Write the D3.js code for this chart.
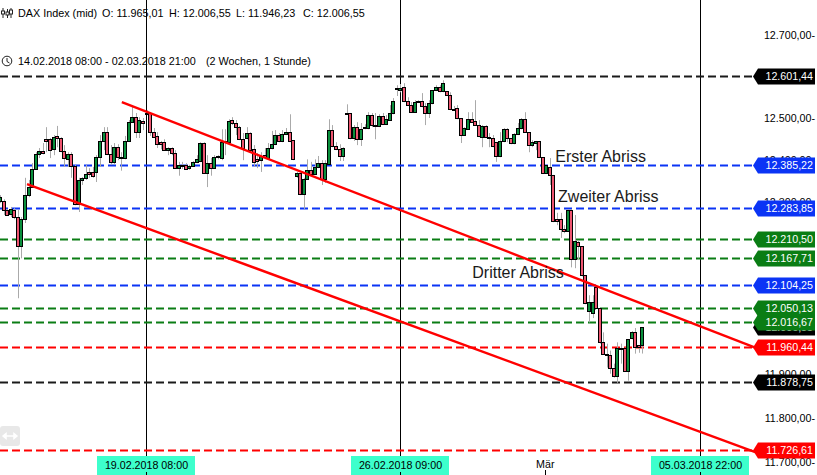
<!DOCTYPE html>
<html><head><meta charset="utf-8">
<script src="https://cdn.jsdelivr.net/npm/d3@7"></script>
<style>html,body{margin:0;padding:0;background:#fff}svg{display:block;font-family:"Liberation Sans",Arial,sans-serif}</style>
</head><body><div id="c"></div>
<script>
const opens=[12302,12302,12281,12271,12281,12264,12196,12259,12316,12335,
12378,12413,12421,12449,12449,12425,12457,12452,12421,12401,
12413,12385,12295,12352,12357,12371,12371,12371,12406,12445,
12466,12413,12395,12430,12406,12404,12445,12490,12502,12466,
12493,12512,12512,12466,12457,12442,12442,12423,12428,12416,
12380,12385,12388,12380,12385,12395,12397,12440,12369,12392,
12380,12409,12404,12445,12442,12495,12488,12478,12449,12452,
12464,12425,12401,12399,12411,12404,12428,12437,12459,12445,
12461,12466,12447,12362,12369,12318,12354,12376,12366,12383,
12392,12354,12390,12471,12433,12425,12409,12512,12512,12452,
12478,12449,12478,12476,12507,12483,12481,12505,12485,12495,
12512,12572,12567,12574,12541,12531,12514,12541,12541,12529,
12512,12536,12567,12574,12565,12565,12555,12521,12524,12500,
12459,12473,12497,12493,12483,12454,12481,12454,12452,12442,
12409,12445,12473,12452,12440,12461,12476,12497,12466,12435,
12440,12445,12406,12369,12383,12364,12259,12259,12236,12231,
12281,12165,12205,12196,12127,12044,12039,12099,12051,11972,
11946,11944,11914,11895,11960,11960,11907,11981,11995,11965,
11965.01];
const highs=[12316,12306,12283,12288,12285,12281,12264,12357,12352,12392,
12418,12428,12440,12478,12452,12459,12481,12454,12435,12418,
12418,12388,12357,12359,12388,12380,12383,12411,12459,12478,
12478,12435,12440,12437,12418,12457,12495,12531,12512,12502,
12500,12519,12514,12476,12466,12445,12449,12430,12430,12423,
12395,12395,12392,12388,12397,12411,12442,12442,12411,12404,
12411,12411,12473,12473,12497,12502,12495,12481,12464,12478,
12466,12435,12416,12418,12428,12440,12469,12471,12464,12471,
12476,12509,12447,12371,12369,12357,12401,12395,12401,12409,
12399,12399,12497,12483,12442,12437,12430,12533,12512,12483,
12490,12488,12485,12514,12512,12512,12509,12512,12507,12531,
12548,12579,12582,12584,12550,12538,12543,12543,12560,12536,
12543,12567,12579,12579,12591,12565,12562,12529,12531,12500,
12478,12514,12514,12543,12495,12483,12483,12464,12459,12442,
12466,12476,12476,12452,12464,12488,12500,12514,12466,12447,
12445,12445,12406,12388,12404,12364,12274,12274,12245,12283,
12283,12269,12210,12196,12127,12081,12081,12102,12051,11995,
11969,11953,11923,11972,11969,11960,11979,11998,12005,11965,
12006.55];
const lows=[12297,12269,12267,12264,12259,12074,12167,12250,12311,12335,
12376,12404,12413,12418,12404,12411,12430,12418,12383,12383,
12357,12292,12276,12340,12352,12357,12357,12347,12383,12423,
12411,12388,12388,12399,12374,12401,12445,12488,12452,12452,
12471,12507,12457,12452,12428,12425,12421,12411,12411,12378,
12362,12378,12376,12376,12383,12392,12395,12366,12335,12362,
12380,12401,12399,12411,12440,12483,12459,12447,12399,12449,
12423,12383,12380,12371,12404,12401,12425,12435,12442,12442,
12459,12442,12399,12357,12316,12283,12352,12362,12364,12380,
12340,12345,12390,12430,12423,12397,12397,12509,12449,12445,
12435,12433,12473,12473,12478,12449,12478,12483,12483,12493,
12509,12553,12562,12538,12529,12512,12512,12536,12526,12483,
12500,12533,12565,12562,12562,12553,12519,12517,12497,12440,
12457,12473,12488,12481,12454,12430,12452,12430,12430,12395,
12406,12442,12442,12437,12437,12459,12473,12464,12418,12430,
12423,12404,12366,12366,12340,12252,12245,12215,12226,12231,
12146,12144,12163,12125,12060,12018,12028,12049,11969,11944,
11914,11900,11891,11879,11923,11905,11884,11979,11946,11948,
11946.23];
const closes=[12311,12281,12269,12283,12264,12196,12259,12316,12335,12378,
12413,12421,12416,12445,12423,12454,12452,12421,12404,12413,
12385,12295,12352,12357,12366,12366,12362,12406,12445,12466,
12413,12395,12430,12406,12404,12445,12490,12502,12466,12495,
12488,12509,12466,12454,12437,12437,12423,12428,12416,12380,
12388,12388,12378,12385,12395,12401,12440,12369,12392,12380,
12406,12406,12442,12442,12493,12488,12478,12449,12428,12464,
12423,12395,12397,12409,12406,12428,12437,12459,12445,12461,
12466,12445,12401,12369,12318,12354,12376,12366,12383,12392,
12354,12392,12471,12433,12425,12409,12428,12509,12452,12478,
12449,12473,12476,12507,12483,12481,12505,12485,12497,12512,
12541,12570,12572,12541,12531,12514,12538,12538,12529,12512,
12536,12567,12574,12565,12584,12555,12521,12519,12500,12459,
12476,12497,12490,12483,12457,12481,12454,12452,12433,12409,
12445,12473,12452,12440,12461,12476,12497,12466,12435,12442,
12445,12406,12369,12388,12364,12255,12255,12236,12231,12281,
12165,12207,12196,12127,12062,12065,12065,12051,11972,11946,
11944,11914,11895,11960,11958,11907,11979,11995,11962,11962,
12006.55];

const blackLevels=[12601.44,11878.75];
const blueLevels=[12385.22,12283.85,12104.25];
const greenLevels=[12210.50,12167.71,12050.13,12016.67];
const redLevels=[11960.44,11726.61];
const lastPrice=[12006.55];
const priceTicks=[12700,12500,12400,12300,11900,11800,11700];
const upperTrend=[[34.1,12538],[211.7,11960]];
const lowerTrend=[[7.56,12342],[211.7,11722]];
const dateBars=[41,112,196.3];
const dateLabels=["19.02.2018 08:00","26.02.2018 09:00","05.03.2018 22:00"];
const monthBar=[152.7], monthLabel=["Mär"];
const notes=[["Erster Abriss",155.5,12395],["Zweiter Abriss",156.3,12300],["Dritter Abriss",132.2,12120]];
const headerItems=["DAX Index (mid)","O: 11.965,01","H: 12.006,55","L: 11.946,23","C: 12.006,55"];
const rangeItems=["14.02.2018 08:00 - 02.03.2018 21:00","(2 Wochen, 1 Stunde)"];

const W=817,H=475;
const x=d3.scaleLinear().domain([0,41,112,180]).range([0,146.5,400.4,642.4]);
const y=d3.scaleLog().domain([11726.61,12601.44]).range([450,76]);
const de=d3.formatLocale({decimal:",",thousands:".",grouping:[3],currency:["",""]});
const fmt=de.format(",.2f");

const svg=d3.select("#c").append("svg").attr("width",W).attr("height",H);
const TXT="#000";

// price axis (under the level flags)
const axis=d3.axisRight(y).tickValues(priceTicks).tickSize(0).tickPadding(0).tickFormat(d=>fmt(d)+"-");
const ag=svg.append("g").attr("transform","translate(815,0)").call(axis);
ag.select(".domain").remove();
ag.selectAll("text").attr("text-anchor","end").attr("font-size",10.7).attr("fill",TXT).attr("font-family","Liberation Sans");

// vertical date lines
svg.append("g").selectAll("line").data(dateBars).join("line")
  .attr("x1",d=>Math.floor(x(d))+.5).attr("x2",d=>Math.floor(x(d))+.5)
  .attr("y1",0).attr("y2",H).attr("stroke","#000").attr("stroke-width",1);

// horizontal levels
const levelSets=[[blackLevels,"#1a1a1a"],[blueLevels,"#0b34f5"],[greenLevels,"#0a7d14"],[redLevels,"#ff0000"]];
const levG=svg.append("g");
levelSets.forEach(([vals,col])=>{
  levG.selectAll(null).data(vals).join("line")
    .attr("x1",0).attr("x2",755).attr("y1",d=>Math.floor(y(d))+.5).attr("y2",d=>Math.floor(y(d))+.5)
    .attr("stroke",col).attr("stroke-width",2).attr("stroke-dasharray","8 4");
});

// candles
const idx=d3.range(opens.length);
const cx=i=>Math.round(x(i));
const cg=svg.append("g");
cg.selectAll("line.w").data(idx).join("line").attr("class","w")
  .attr("x1",i=>cx(i)+.5).attr("x2",i=>cx(i)+.5)
  .attr("y1",i=>y(highs[i])).attr("y2",i=>y(lows[i]))
  .attr("stroke","#aaaaaa").attr("stroke-width",1);
cg.selectAll("rect").data(idx).join("rect")
  .attr("x",i=>cx(i)-1.5).attr("width",3)
  .attr("y",i=>Math.round(y(Math.max(opens[i],closes[i])))+.5)
  .attr("height",i=>Math.max(1,Math.round(y(Math.min(opens[i],closes[i])))-Math.round(y(Math.max(opens[i],closes[i])))))
  .attr("fill",i=>closes[i]>=opens[i]?"#0a8f3c":"#ee5570")
  .attr("stroke","#000").attr("stroke-width",1);

// trend lines
const line=d3.line().x(d=>x(d[0])).y(d=>y(d[1]));
svg.append("g").selectAll("path").data([upperTrend,lowerTrend]).join("path")
  .attr("d",line).attr("fill","none").attr("stroke","#ff0000").attr("stroke-width",2.4);

// level flags
function flag(v,col){
  const p=Math.floor(y(v))+.5;
  const pts=[[753,p],[758,p-8],[815,p-8],[815,p+8],[758,p+8]];
  const g=svg.append("g");
  g.append("path").attr("d",d3.line()(pts)+"Z").attr("fill",col);
  g.append("text").attr("x",813).attr("y",p+3.7).attr("text-anchor","end")
   .attr("fill","#fff").attr("font-size",10.7).text(fmt(v));
}
lastPrice.forEach(v=>flag(v,"#000"));
blackLevels.forEach(v=>flag(v,"#000"));
redLevels.forEach(v=>flag(v,"#ff0000"));
blueLevels.forEach(v=>flag(v,"#0b34f5"));
greenLevels.slice().reverse().forEach(v=>flag(v,"#0a7d14"));

// annotations
svg.append("g").selectAll("text").data(notes).join("text")
  .attr("x",d=>x(d[1])).attr("y",d=>y(d[2])).attr("font-size",16).attr("fill","#1a1a1a").text(d=>d[0]);

// date flags
const dg=svg.append("g").selectAll("g").data(dateBars).join("g")
  .attr("transform",d=>`translate(${Math.floor(x(d))+.5},0)`);
dg.append("rect").attr("x",-49.5).attr("y",456).attr("width",98).attr("height",19).attr("fill","#3dffcc");
dg.append("text").attr("x",0).attr("y",469).attr("text-anchor","middle").attr("font-size",10.7).attr("fill",TXT)
  .text((d,i)=>dateLabels[i]);
dg.append("line").attr("y1",472).attr("y2",475).attr("stroke","#000");
// month label
svg.append("text").attr("x",x(monthBar[0])).attr("y",468).attr("text-anchor","middle").attr("font-size",10.7).attr("fill",TXT).text(monthLabel[0]);
svg.append("line").attr("x1",Math.floor(x(monthBar[0]))+.5).attr("x2",Math.floor(x(monthBar[0]))+.5).attr("y1",470).attr("y2",475).attr("stroke","#000");

// header
const hx=[18,102,169,236,303];
svg.append("g").selectAll("text").data(headerItems).join("text")
  .attr("x",(d,i)=>hx[i]).attr("y",17).attr("font-size",10.8).attr("fill",TXT).text(d=>d);
const rx=[18,206];
svg.append("g").selectAll("text").data(rangeItems).join("text")
  .attr("x",(d,i)=>rx[i]).attr("y",65).attr("font-size",10.8).attr("fill",TXT).text(d=>d);

// icons
const ic=svg.append("g").attr("stroke","#222").attr("fill","none").attr("stroke-width",1);
[[3,8,18,11,14],[7.5,9,18,12,15],[11,8,18,10,14]].forEach(a=>{
  ic.append("line").attr("x1",a[0]).attr("x2",a[0]).attr("y1",a[1]).attr("y2",a[2]);
  ic.append("rect").attr("x",a[0]-1.5).attr("y",a[3]).attr("width",3).attr("height",a[4]-a[3]).attr("fill","#fff");
});
ic.append("circle").attr("cx",7).attr("cy",61).attr("r",4.8);
ic.append("path").attr("d","M7 58V61.5L9.5 63");

// scroll button
const b=svg.append("g");
b.append("rect").attr("x",0).attr("y",426).attr("width",20).attr("height",20).attr("rx",3).attr("fill","#e8e8e8");
b.append("path").attr("d","M3 436H17M3 436L6 433.5V438.5ZM17 436L14 433.5V438.5Z").attr("stroke","#fff").attr("stroke-width",1.5).attr("fill","#fff");
</script></body></html>
